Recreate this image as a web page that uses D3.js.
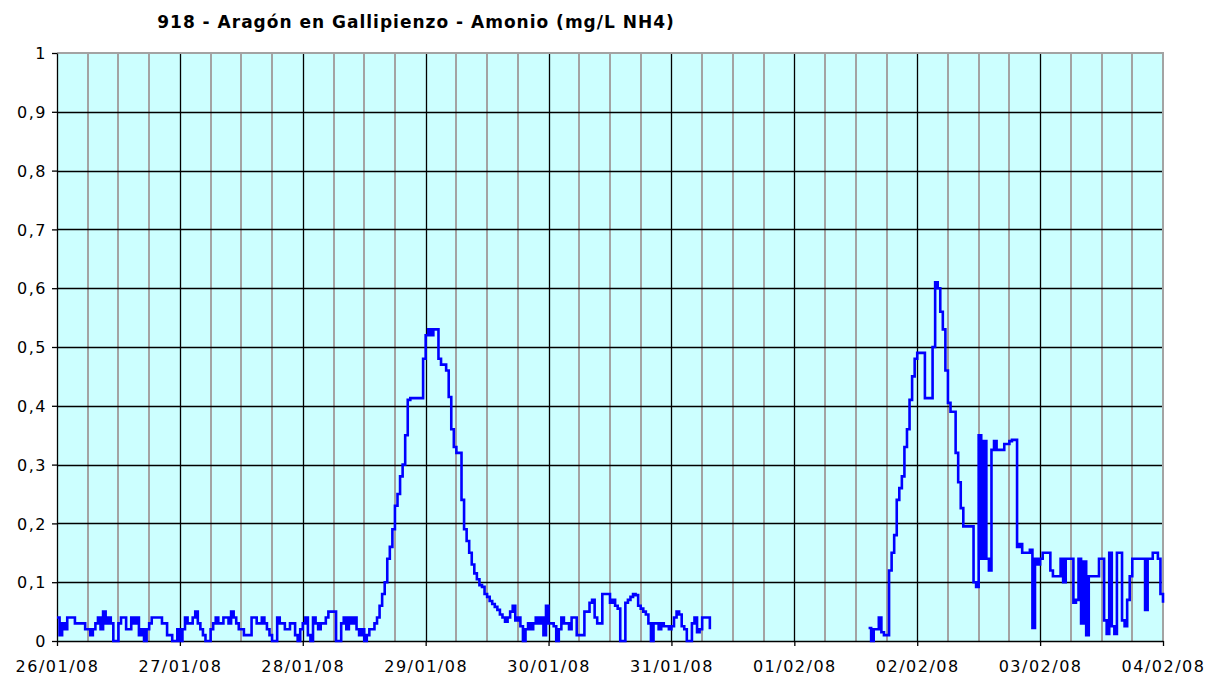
<!DOCTYPE html>
<html>
<head>
<meta charset="utf-8">
<script src="https://cdn.jsdelivr.net/npm/d3@7/dist/d3.min.js"></script>
<style>
  body { margin: 0; background: #fff; }
  svg text { font-family: "DejaVu Sans", Verdana, sans-serif; fill: #000; }
</style>
</head>
<body>
<svg id="chart" width="1208" height="677"></svg>
<script>
// half-hourly readings, 48 per day, null = no data
const day26 = [0.04,0.01, 0.03,0.02, 0.04,0.04, 0.04,0.03, 0.03,0.03, 0.03,0.02, 0.02,0.01, 0.02,0.03,
               0.04,0.02, 0.05,0.03, 0.04,0.03, 0.0,0.0, 0.03,0.04, 0.04,0.02, 0.02,0.04, 0.03,0.04,
               0.01,0.02, 0.0,0.02, 0.03,0.04, 0.04,0.04, 0.04,0.03, 0.03,0.01, 0.01,0.0, 0.0,0.02];
const day27 = [0.0,0.02, 0.04,0.03, 0.03,0.04, 0.05,0.03, 0.02,0.01, 0.0,0.0, 0.02,0.03, 0.04,0.03,
               0.03,0.04, 0.04,0.03, 0.05,0.04, 0.03,0.02, 0.02,0.01, 0.01,0.01, 0.04,0.04, 0.03,0.03,
               0.04,0.03, 0.02,0.01, 0.0,0.0, 0.04,0.03, 0.03,0.02, 0.02,0.03, 0.03,0.01, 0.0,0.02];
const day28 = [0.03,0.04, 0.01,0.0, 0.04,0.03, 0.02,0.03, 0.03,0.04, 0.05,0.05, 0.05,0.0, 0.0,0.03,
               0.04,0.02, 0.04,0.03, 0.04,0.02, 0.01,0.02, 0.0,0.01, 0.02,0.02, 0.03,0.04, 0.06,0.08,
               0.10,0.14, 0.16,0.19, 0.23,0.25, 0.28,0.30, 0.35,0.41, 0.413,0.413, 0.413,0.413, 0.413,0.48];
const day29 = [0.52,0.53, 0.52,0.53, 0.53,0.48, 0.47,0.47, 0.46,0.415, 0.36,0.33, 0.32,0.32, 0.24,0.19,
               0.17,0.15, 0.13,0.115, 0.105,0.095, 0.092,0.08, 0.075,0.068, 0.063,0.058, 0.053,0.045, 0.04,0.033,
               0.04,0.05, 0.06,0.035, 0.04,0.025, 0.0,0.02, 0.03,0.02, 0.03,0.04, 0.03,0.04, 0.01,0.06];
const day30 = [0.03,0.03, 0.025,0.0, 0.02,0.04, 0.03,0.03, 0.02,0.04, 0.04,0.01, 0.01,0.01, 0.05,0.05,
               0.065,0.07, 0.04,0.03, 0.03,0.08, 0.08,0.08, 0.065,0.07, 0.06,0.055, 0.0,0.0, 0.065,0.07,
               0.075,0.08, 0.078,0.06, 0.055,0.05, 0.045,0.03, 0.0,0.03, 0.03,0.02, 0.03,0.025, 0.025,0.02];
const day31 = [0.025,0.04, 0.05,0.045, 0.025,0.02, 0.0,0.0, 0.03,0.04, 0.015,0.02, 0.04,0.04, 0.04,0.02,
               null,null, null,null, null,null, null,null, null,null, null,null, null,null, null,null,
               null,null, null,null, null,null, null,null, null,null, null,null, null,null, null,null];
const day01 = [null,null, null,null, null,null, null,null, null,null, null,null, null,null, null,null,
               null,null, null,null, null,null, null,null, null,null, null,null, null,0.022, 0.0,0.02,
               0.02,0.04, 0.015,0.01, 0.01,0.12, 0.15,0.18, 0.24,0.26, 0.28,0.33, 0.36,0.41, 0.45,0.48];
const day02 = [0.49,0.49, 0.49,0.413, 0.413,0.413, 0.50,0.61, 0.60,0.56, 0.53,0.46, 0.405,0.39, 0.39,0.32,
               0.27,0.226, 0.195,0.195, 0.195,0.195, 0.10,0.092, 0.35,0.14, 0.34,0.14, 0.12,0.325, 0.34,0.325,
               0.325,0.325, 0.335,0.335, 0.34,0.342, 0.342,0.16, 0.165,0.15, 0.15,0.15, 0.155,0.022, 0.14,0.13];
const day03 = [0.14,0.15, 0.15,0.15, 0.12,0.11, 0.11,0.11, 0.14,0.10, 0.14,0.14, 0.14,0.065, 0.07,0.14,
               0.03,0.135, 0.01,0.11, 0.11,0.11, 0.11,0.14, 0.14,0.035, 0.012,0.15, 0.025,0.012, 0.15,0.15,
               0.035,0.025, 0.07,0.11, 0.14,0.14, 0.14,0.14, 0.14,0.053, 0.14,0.14, 0.15,0.15, 0.14,0.08];
const day04 = [0.065];

const dayLabels = ['26/01/08','27/01/08','28/01/08','29/01/08','30/01/08','31/01/08','01/02/08','02/02/08','03/02/08','04/02/08'];
const yTicks = [0, 0.1, 0.2, 0.3, 0.4, 0.5, 0.6, 0.7, 0.8, 0.9, 1];
const title = 'Aragón en Gallipienzo';
const chartTitle = '918 - ' + title + ' - Amonio (mg/L NH4)';

const start = new Date(2008, 0, 26);
const end = new Date(2008, 1, 4);
const readings = [].concat(day26, day27, day28, day29, day30, day31, day01, day02, day03, day04);
const data = readings.map((v, i) => ({ t: d3.timeMinute.offset(start, i * 30), v: v }));

const plotL = 57, plotR = 1163, plotT = 53, plotB = 641;
const svg = d3.select('#chart');

const x = d3.scaleTime().domain([start, end]).range([plotL, plotR]);
const y = d3.scaleLinear().domain([0, 1]).range([plotB, plotT]);

// plot background
svg.append('rect')
  .attr('x', plotL).attr('y', plotT)
  .attr('width', plotR - plotL).attr('height', plotB - plotT)
  .attr('fill', '#ccffff');

const grid = svg.append('g');

// 6 hour gray lines
grid.selectAll('.vminor')
  .data(d3.timeHour.every(6).range(start, end).filter(d => d.getHours() != 0))
  .join('line')
  .attr('x1', d => Math.round(x(d))).attr('x2', d => Math.round(x(d)))
  .attr('y1', plotT).attr('y2', plotB)
  .attr('stroke', '#a3a3a3')
  .attr('stroke-width', 2);

// horizontal lines
grid.selectAll('.hline')
  .data(yTicks.slice(1, -1))
  .join('line')
  .attr('x1', plotL).attr('x2', plotR)
  .attr('y1', d => Math.round(y(d)) + 0.5).attr('y2', d => Math.round(y(d)) + 0.5)
  .attr('stroke', '#000')
  .attr('stroke-width', 1.3);

// day lines
const days = d3.timeDay.range(start, d3.timeDay.offset(end, 1));
grid.selectAll('.vmajor')
  .data(days.slice(1, -1))
  .join('line')
  .attr('x1', d => Math.round(x(d)) + 0.5).attr('x2', d => Math.round(x(d)) + 0.5)
  .attr('y1', plotT).attr('y2', plotB)
  .attr('stroke', '#000')
  .attr('stroke-width', 1.3);

// border: gray top/right, black axes
grid.append('path')
  .attr('d', `M${plotL},${plotT}H${plotR}V${plotB}`)
  .attr('fill', 'none').attr('stroke', '#a3a3a3').attr('stroke-width', 2);

const xAxis = svg.append('g')
  .attr('transform', `translate(0,${plotB})`)
  .call(d3.axisBottom(x).tickValues(days).tickSize(5).tickSizeOuter(0).tickFormat((d, i) => dayLabels[i]));
const yAxis = svg.append('g')
  .attr('transform', `translate(${plotL},0)`)
  .call(d3.axisLeft(y).tickValues(yTicks).tickSize(5).tickSizeOuter(0).tickFormat(d => String(d).replace('.', ',')));

[xAxis, yAxis].forEach(a => {
  a.select('.domain').attr('stroke', '#000').attr('stroke-width', 1.3);
  a.selectAll('.tick line').attr('stroke', '#000').attr('stroke-width', 1.3);
  a.selectAll('text').attr('font-family', '"DejaVu Sans", Verdana, sans-serif')
    .attr('font-size', 16).attr('fill', '#000').style('letter-spacing', '1.5px');
});
xAxis.selectAll('text').attr('dy', null).attr('y', 31);
yAxis.selectAll('text').attr('x', -10).attr('dy', '0.36em');

// series
const line = d3.line()
  .defined(d => d.v != null)
  .x(d => x(d.t))
  .y(d => y(d.v))
  .curve(d3.curveStepAfter);

svg.append('path')
  .datum(data)
  .attr('d', line)
  .attr('fill', 'none')
  .attr('stroke', '#0000ff')
  .attr('stroke-width', 2.6);

svg.append('text')
  .attr('x', 416).attr('y', 28)
  .attr('text-anchor', 'middle')
  .attr('font-size', 17).attr('font-weight', 'bold')
  .style('letter-spacing', '1px')
  .text(chartTitle);
</script>
</body>
</html>
